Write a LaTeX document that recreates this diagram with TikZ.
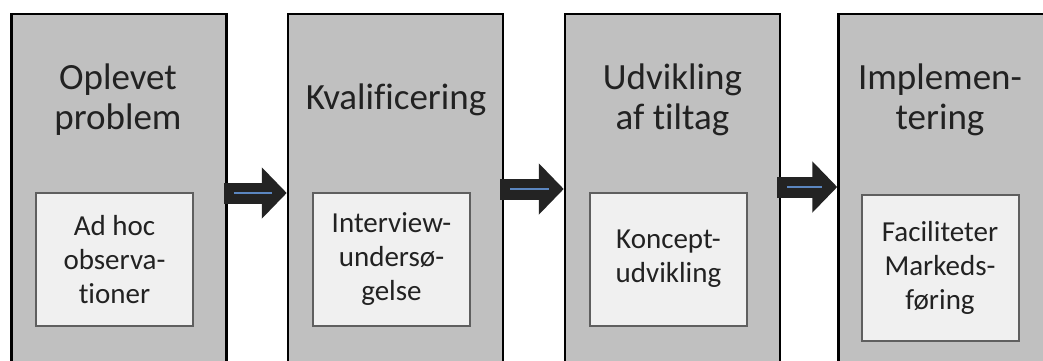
\documentclass[tikz,border=0pt]{standalone}
\usepackage{fontspec}
\setmainfont{Carlito}[RawFeature=-liga]
\usetikzlibrary{arrows.meta,positioning}

\definecolor{stagefill}{HTML}{C0C0C0}
\definecolor{taskfill}{HTML}{F0F0F0}
\definecolor{taskline}{HTML}{5F5F5F}
\definecolor{textgray}{HTML}{222222}
\definecolor{flowblack}{HTML}{232323}
\definecolor{flowblue}{HTML}{5B86C0}

\begin{document}
\begin{tikzpicture}
        [x=1pt, y=-1pt,
        stage/.style={draw=black, line width=2.5pt, fill=stagefill, minimum width=215pt, minimum height=366pt, inner sep=0pt},
        title/.style={font=\fontsize{37}{40}\selectfont, text=textgray, align=center},
        task/.style={draw=taskline, line width=2pt, fill=taskfill, minimum width=157pt, minimum height=133pt, inner sep=0pt, align=center, font=\fontsize{29}{34}\selectfont, text=textgray},
        flow/.style={line width=21pt, flowblack, -{Triangle[length=25pt, width=50pt]}},
        flowline/.style={line width=2pt, flowblue}]

        \clip (0,0) rectangle (1043,361);
        \fill[white] (0,0) rectangle (1043,361);

        % the four stages (cut off at the bottom)
        \node[stage] (s1) at (119,197) {};
        \node[stage] (s2) at (395.5,197) {};
        \node[stage] (s3) at (672.5,197) {};
        \node[stage] (s4) at (946,197) {};

        % stage titles
        \node[title] (t1) at (118,100) {Oplevet\\problem};
        \node[title] (t2) at (396,100) {Kvalificering};
        \node[title] (t3) at (672.5,100) {Udvikling\\af tiltag};
        \node[title] (t4) at (940,100) {Implemen-\\tering};

        % inner boxes
        \node[task] (k1) at (114.5,259.5) {Ad hoc\\observa-\\tioner};
        \node[task] (k2) at (391.5,259) {Interview-\\undersø-\\gelse};
        \node[task] (k3) at (668.5,259) {Koncept-\\udvikling};
        \node[task, minimum height=146pt] (k4) at (940,268) {Faciliteter\\Markeds-\\føring};

        % block arrows between the stages
        \draw[flow] ([xshift=-4pt, yshift=4pt]s1.east) -- ([yshift=4pt]s2.west);
        \draw[flow] ([xshift=-4pt, yshift=8pt]s2.east) -- ([yshift=8pt]s3.west);
        \draw[flow] ([xshift=-4pt, yshift=10pt]s3.east) -- ([yshift=10pt]s4.west);
        % blue lines inside the arrows
        \draw[flowline] ([xshift=6pt, yshift=4pt]s1.east) -- ([xshift=-15pt, yshift=4pt]s2.west);
        \draw[flowline] ([xshift=6pt, yshift=8pt]s2.east) -- ([xshift=-15pt, yshift=8pt]s3.west);
        \draw[flowline] ([xshift=6pt, yshift=10pt]s3.east) -- ([xshift=-15pt, yshift=10pt]s4.west);

\end{tikzpicture}
\end{document}
